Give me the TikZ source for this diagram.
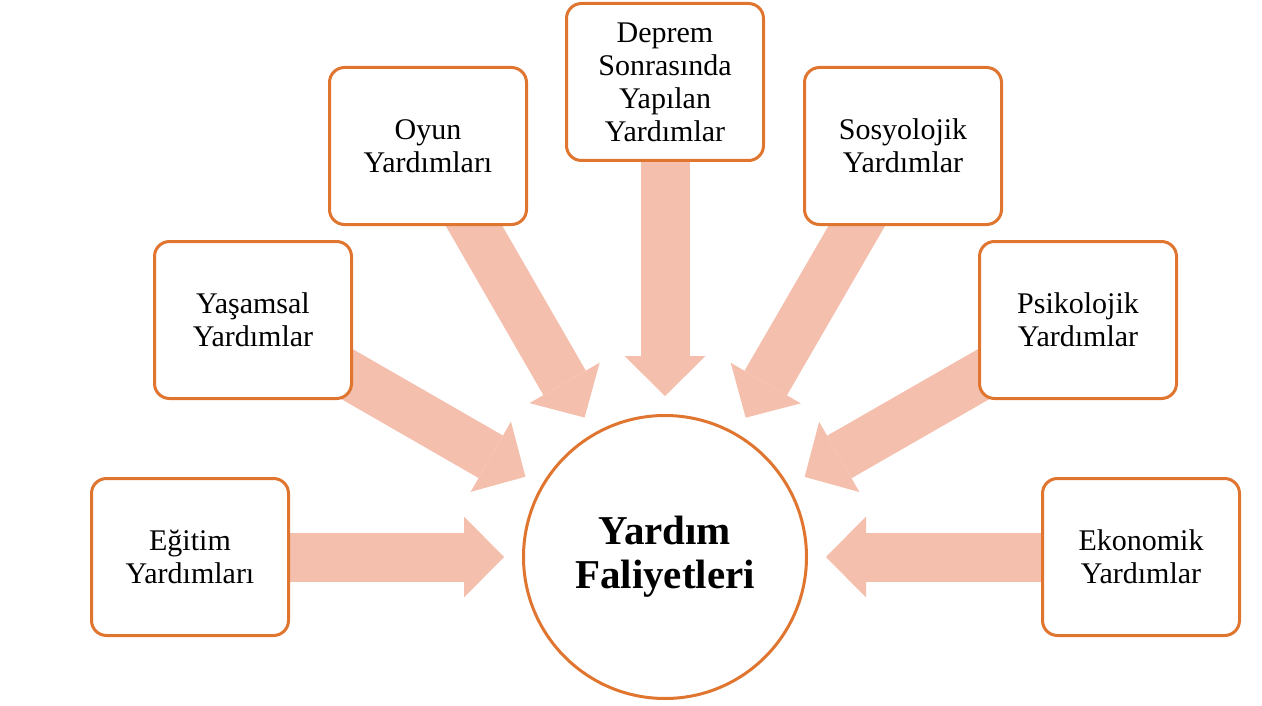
\documentclass[tikz,border=0pt]{standalone}
\usepackage{fontspec}
\setmainfont{Liberation Serif}
\usepackage{xcolor}
\usetikzlibrary{arrows.meta,backgrounds}

\definecolor{turuncu}{RGB}{224,117,48}
\definecolor{somon}{RGB}{244,191,173}

\begin{document}
\begin{tikzpicture}
        [x=1pt,y=-1pt,
        kutu/.style={draw=turuncu,line width=3pt,fill=white,rounded corners=15pt,
          minimum width=197pt,minimum height=157pt,align=center,
          font=\fontsize{30}{33}\selectfont},
        merkez/.style={circle,draw=turuncu,line width=3pt,fill=white,
          minimum size=283pt,align=center,
          font=\fontsize{41}{44}\selectfont\bfseries},
        ok/.style={draw=somon,line width=49pt,shorten >=18pt,
          -{Triangle[width=81pt,length=40pt,line width=0pt]}}]
        \useasboundingbox (0,0) rectangle (1262,706);
        \node[merkez] (yf) at (665,557) {Yardım\\Faliyetleri};
        \node[kutu] (egitim) at (190,557) {Eğitim\\Yardımları};
        \node[kutu] (yasamsal) at (253,320) {Yaşamsal\\Yardımlar};
        \node[kutu] (oyun) at (428,146) {Oyun\\Yardımları};
        \node[kutu] (deprem) at (665,82) {Deprem\\Sonrasında\\Yapılan\\Yardımlar};
        \node[kutu] (sosyo) at (903,146) {Sosyolojik\\Yardımlar};
        \node[kutu] (psiko) at (1078,320) {Psikolojik\\Yardımlar};
        \node[kutu] (ekonomik) at (1141,557) {Ekonomik\\Yardımlar};

        \begin{scope}[on background layer]
        \foreach \k in {egitim,yasamsal,oyun,deprem,sosyo,psiko,ekonomik}
          \draw[ok] (\k.center) -- (yf);
        \end{scope}
    \end{tikzpicture}
\end{document}
